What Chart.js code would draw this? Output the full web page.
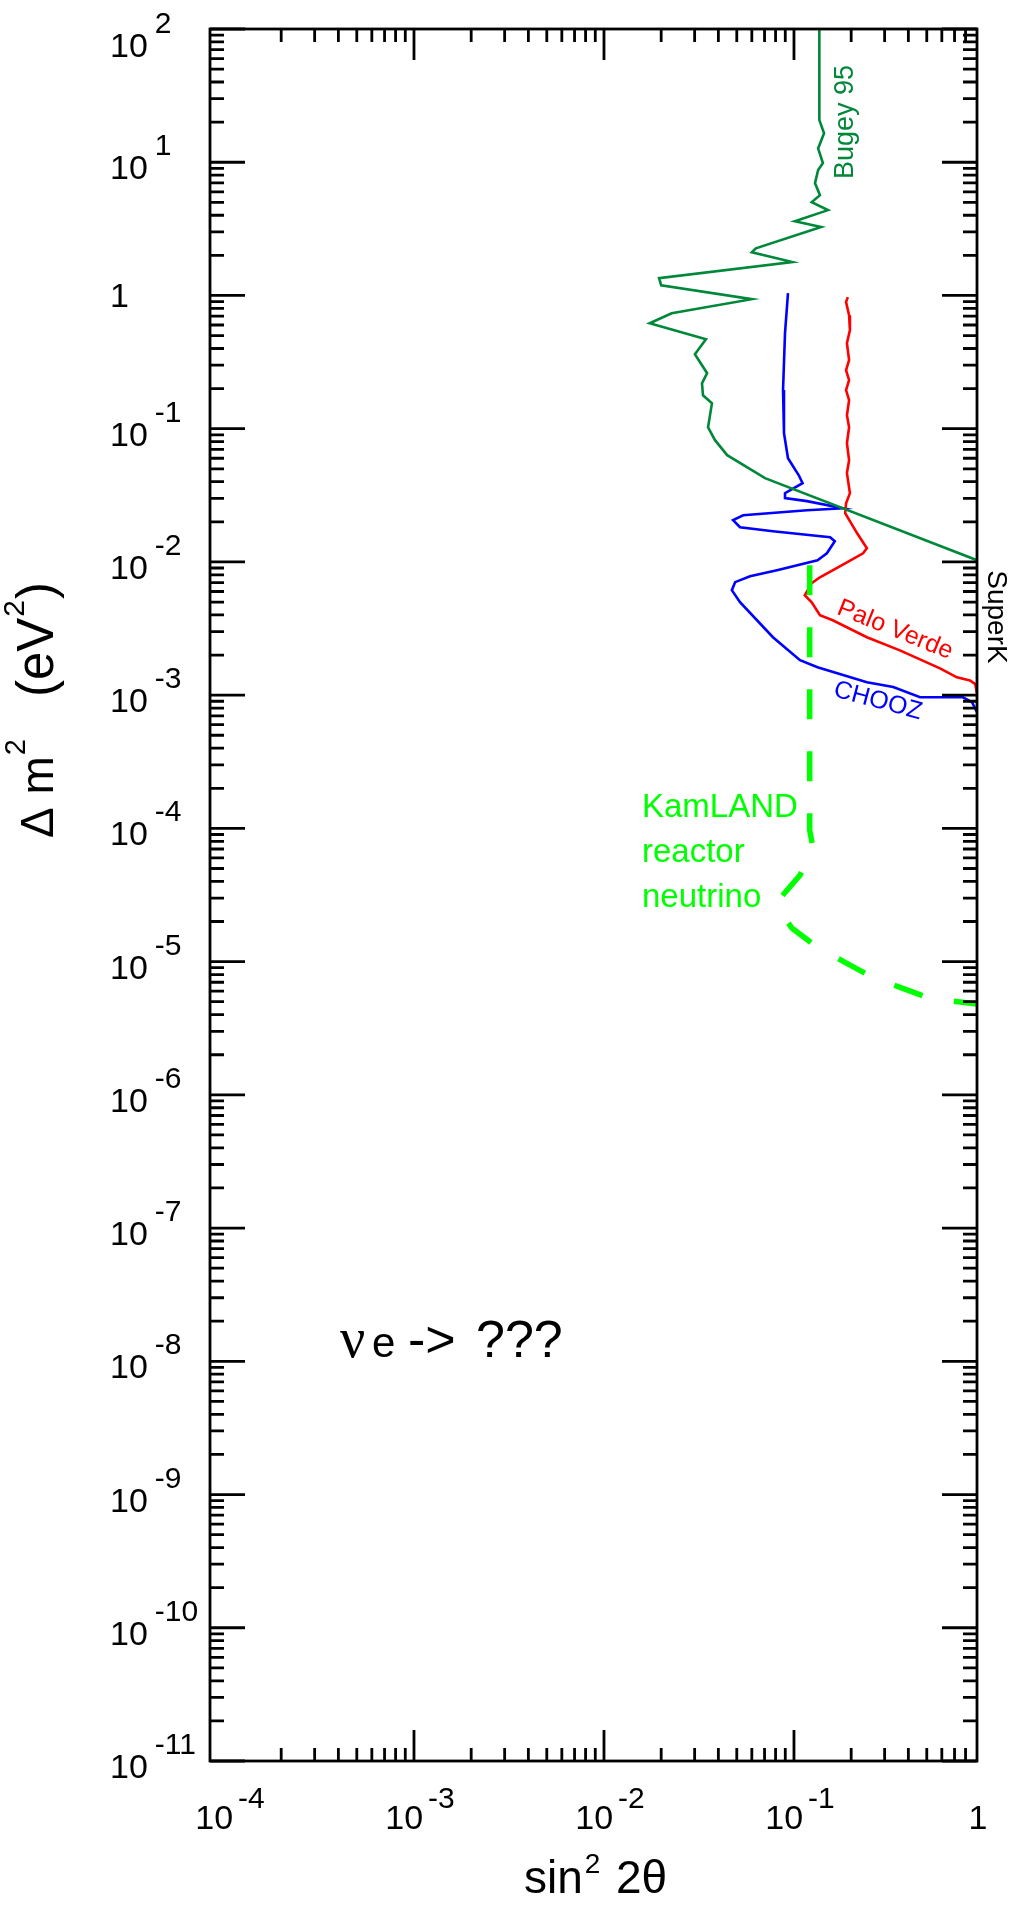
<!DOCTYPE html>
<html>
<head>
<meta charset="utf-8">
<title>Reactor neutrino oscillation limits</title>
<script src="https://cdn.jsdelivr.net/npm/chart.js@4.4.1/dist/chart.umd.min.js"></script>
<style>
  html, body { margin: 0; padding: 0; background: #fff; }
  canvas { display: block; }
</style>
</head>
<body>
<canvas id="chart" width="1019" height="1907"></canvas>
<script>
// axis ranges (sin^2 2theta, delta m^2 in eV^2)
const xRange = [8.44e-5, 0.919];
const yRange = [1e-11, 100];

// Bugey 95 exclusion contour
const bugeyX = [0.136, 0.136, 0.144, 0.134, 0.142, 0.134, 0.129, 0.137, 0.124, 0.151, 0.101, 0.139,
  0.063, 0.060, 0.098, 0.0195, 0.020, 0.060, 0.0227, 0.0174, 0.0344, 0.0301, 0.0349, 0.0328,
  0.0332, 0.037, 0.0353, 0.0384, 0.0445, 0.0704, 0.919];
const bugeyY = [100, 20.7, 16.5, 12.7, 9.85, 8.73, 6.97, 5.66, 5.02, 4.37, 3.61, 3.26,
  2.26, 2.11, 1.78, 1.35, 1.19, 0.938, 0.736, 0.619, 0.470, 0.362, 0.261, 0.219,
  0.178, 0.155, 0.1025, 0.082, 0.0633, 0.0425, 0.0103];

// CHOOZ
const choozX = [0.093, 0.0897, 0.0876, 0.0886, 0.093, 0.106, 0.111, 0.0897, 0.0897, 0.117, 0.181, 0.117,
  0.054, 0.0478, 0.052, 0.0775, 0.155, 0.164, 0.149, 0.133, 0.0814, 0.0587, 0.049, 0.0471,
  0.052, 0.0775, 0.1076, 0.133, 0.242, 0.333, 0.461, 0.609, 0.775, 0.865, 0.919];
const choozY = [1.04, 0.521, 0.195, 0.0925, 0.060, 0.0447, 0.039, 0.0328, 0.0301, 0.0286, 0.0253, 0.0244,
  0.0224, 0.0206, 0.0182, 0.0170, 0.0153, 0.0143, 0.0116, 0.0103, 0.00867, 0.00781, 0.00705, 0.00614,
  0.00499, 0.00272, 0.00183, 0.00162, 0.00125, 0.00115, 0.000964, 0.000964, 0.000964, 0.000885, 0.000745];

// Palo Verde
const paloX = [0.192, 0.188, 0.195, 0.197, 0.190, 0.195, 0.188, 0.195, 0.188, 0.195, 0.190, 0.195,
  0.190, 0.195, 0.190, 0.197, 0.188, 0.186, 0.215, 0.242, 0.231, 0.186, 0.137, 0.124,
  0.114, 0.124, 0.137, 0.160, 0.242, 0.361, 0.587, 0.720, 0.844, 0.90, 0.919];
const paloY = [0.971, 0.891, 0.711, 0.549, 0.438, 0.327, 0.275, 0.231, 0.195, 0.164, 0.126, 0.1026,
  0.0778, 0.058, 0.0464, 0.0328, 0.0276, 0.0232, 0.0164, 0.01267, 0.0116, 0.00977, 0.00767, 0.00692,
  0.00562, 0.00498, 0.00398, 0.00365, 0.00272, 0.00217, 0.00159, 0.00136, 0.00129, 0.00121, 0.00103];

// KamLAND reactor neutrino sensitivity
const kamlandX = [0.121, 0.121, 0.126, 0.1076, 0.0845, 0.0825, 0.0977, 0.133, 0.190, 0.260, 0.374, 0.519, 0.919];
const kamlandY = [0.00944, 9.7e-5, 7.1e-5, 4.46e-5, 2.99e-5, 2.51e-5, 1.78e-5, 1.28e-5, 9.7e-6, 7.6e-6, 6.3e-6, 5.3e-6, 4.8e-6];

const SANS = '"Liberation Sans", Arial, Helvetica, sans-serif';
const GREEN = '#00883a';

const toPoints = (xs, ys) => xs.map((x, i) => ({ x: x, y: ys[i] }));

function logTicks(min, max) {
  const out = [];
  for (let k = Math.floor(Math.log10(min)); k <= Math.ceil(Math.log10(max)); k++) {
    for (let m = 1; m <= 9; m++) {
      const v = m * Math.pow(10, k);
      if (v >= min * 0.999 && v <= max * 1.001) out.push({ v: v, major: m === 1, k: k });
    }
  }
  return out;
}

// "10" with a raised exponent, starting at x
function powerLabel(ctx, k, x, base, raise, gap) {
  ctx.font = '34px ' + SANS;
  ctx.fillText('10', x, base);
  const w = ctx.measureText('10').width;
  ctx.font = '30px ' + SANS;
  ctx.fillText(String(k), x + w + gap, base - raise);
}

function powerWidth(ctx, k, gap) {
  ctx.font = '34px ' + SANS;
  const w = ctx.measureText('10').width;
  ctx.font = '30px ' + SANS;
  return w + gap + ctx.measureText(String(k)).width;
}

const frame = {
  id: 'frame',
  afterDraw(chart) {
    const ctx = chart.ctx;
    const xs = chart.scales.x, ys = chart.scales.y;
    const a = chart.chartArea;
    ctx.save();
    ctx.strokeStyle = '#000';
    ctx.fillStyle = '#000';
    ctx.lineWidth = 2.8;
    ctx.strokeRect(a.left, a.top, a.right - a.left, a.bottom - a.top);

    // inward tick marks on all four sides
    ctx.beginPath();
    logTicks(ys.min, ys.max).forEach(t => {
      const py = ys.getPixelForValue(t.v);
      const len = t.major ? 35 : 14;
      ctx.moveTo(a.left, py); ctx.lineTo(a.left + len, py);
      ctx.moveTo(a.right, py); ctx.lineTo(a.right - len, py);
    });
    logTicks(xs.min, xs.max).forEach(t => {
      const px = xs.getPixelForValue(t.v);
      if (px - a.left < 14 || a.right - px < 4) return;
      const len = t.major ? 31 : 13;
      ctx.moveTo(px, a.top); ctx.lineTo(px, a.top + len);
      ctx.moveTo(px, a.bottom); ctx.lineTo(px, a.bottom - len);
    });
    ctx.stroke();

    // y tick labels
    ctx.textAlign = 'left';
    ctx.textBaseline = 'alphabetic';
    for (let k = Math.round(Math.log10(ys.min)); k <= Math.round(Math.log10(ys.max)); k++) {
      const py = ys.getPixelForValue(Math.pow(10, k));
      if (k === 0) {
        ctx.font = '34px ' + SANS;
        ctx.fillText('1', 110, py + 12);
      } else {
        powerLabel(ctx, k, 110, Math.max(py + 17, 57), 24, 7);
      }
    }

    // x tick labels
    for (let k = -4; k <= 0; k++) {
      const px = xs.getPixelForValue(Math.pow(10, k));
      if (k === 0) {
        ctx.font = '34px ' + SANS;
        ctx.textAlign = 'center';
        ctx.fillText('1', px - 6, 1829);
        ctx.textAlign = 'left';
      } else {
        const w = powerWidth(ctx, k, 5);
        powerLabel(ctx, k, px + 6 - w / 2, 1829, 21, 5);
      }
    }

    // x axis title
    ctx.font = '46px ' + SANS;
    ctx.fillText('sin', 524, 1893);
    const sinW = ctx.measureText('sin').width;
    ctx.font = '28px ' + SANS;
    ctx.fillText('2', 524 + sinW + 2, 1873);
    ctx.font = '46px ' + SANS;
    ctx.fillText('2\u03b8', 616, 1893);

    // y axis title, reading upwards
    ctx.save();
    ctx.translate(53, 838);
    ctx.rotate(-Math.PI / 2);
    let cx = 0;
    const run = (t, size, dy, after) => {
      ctx.font = size + 'px ' + SANS;
      ctx.fillText(t, cx, dy);
      cx += ctx.measureText(t).width + (after || 0);
    };
    run('\u0394 m', 46, 0, 1);
    run('2', 29, -28, 42);
    run('(eV', 51, 0, 1);
    run('2', 30, -29, 1);
    run(')', 51, 0);
    ctx.restore();

    // curve labels
    ctx.save();
    ctx.fillStyle = GREEN;
    ctx.font = '27px ' + SANS;
    ctx.textAlign = 'center';
    ctx.translate(853, 122);
    ctx.rotate(-Math.PI / 2);
    ctx.fillText('Bugey 95', 0, 0);
    ctx.restore();

    ctx.save();
    ctx.fillStyle = '#000';
    ctx.font = '28px ' + SANS;
    ctx.textAlign = 'center';
    ctx.translate(988, 617);
    ctx.rotate(Math.PI / 2);
    ctx.fillText('SuperK', 0, 0);
    ctx.restore();

    ctx.save();
    ctx.fillStyle = '#ff0000';
    ctx.font = '25px ' + SANS;
    ctx.textAlign = 'center';
    ctx.textBaseline = 'middle';
    ctx.translate(895, 630);
    ctx.rotate(22 * Math.PI / 180);
    ctx.fillText('Palo Verde', 0, 0);
    ctx.restore();

    ctx.save();
    ctx.fillStyle = '#0000ff';
    ctx.font = '25px ' + SANS;
    ctx.textAlign = 'center';
    ctx.textBaseline = 'middle';
    ctx.translate(878, 701);
    ctx.rotate(15 * Math.PI / 180);
    ctx.fillText('CHOOZ', 0, 0);
    ctx.restore();

    ctx.fillStyle = '#00ff00';
    ctx.font = '33px ' + SANS;
    ctx.textAlign = 'left';
    ctx.fillText('KamLAND', 642, 817);
    ctx.fillText('reactor', 642, 862);
    ctx.fillText('neutrino', 642, 907);

    // channel label
    ctx.fillStyle = '#000';
    ctx.font = '56px "Liberation Serif", "DejaVu Serif", serif';
    ctx.fillText('\u03bd', 340, 1357);
    ctx.font = '42px ' + SANS;
    ctx.fillText('e', 372, 1357);
    ctx.font = '52px ' + SANS;
    ctx.fillText('->', 408, 1357);
    ctx.fillText('???', 476, 1357);
    ctx.restore();
  }
};

const line = (xs, ys, color, width, dash) => ({
  data: toPoints(xs, ys),
  showLine: true,
  borderColor: color,
  borderWidth: width,
  borderDash: dash || [],
  borderCapStyle: 'butt',
  pointRadius: 0,
  fill: false
});

new Chart(document.getElementById('chart'), {
  type: 'scatter',
  data: {
    datasets: [
      line(kamlandX, kamlandY, '#00ff00', 5.5, [30, 32]),
      line(bugeyX, bugeyY, GREEN, 2.6),
      line(paloX, paloY, '#ff0000', 2.6),
      line(choozX, choozY, '#0000ff', 2.6)
    ]
  },
  options: {
    responsive: false,
    animation: false,
    layout: { padding: { left: 210, right: 42, top: 29, bottom: 146 } },
    plugins: { legend: { display: false }, tooltip: { enabled: false } },
    elements: { line: { tension: 0 } },
    scales: {
      x: { type: 'logarithmic', min: xRange[0], max: xRange[1], display: false },
      y: { type: 'logarithmic', min: yRange[0], max: yRange[1], display: false }
    }
  },
  plugins: [frame]
});
</script>
</body>
</html>
